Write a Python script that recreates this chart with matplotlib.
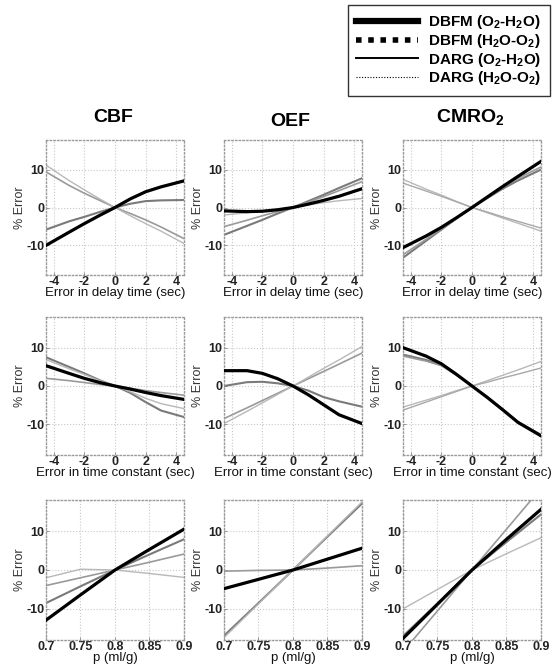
import matplotlib
matplotlib.use("Agg")
import matplotlib.pyplot as plt
from matplotlib.lines import Line2D

plt.rcParams['font.family'] = ['Liberation Sans', 'DejaVu Sans']
plt.rcParams['mathtext.default'] = 'regular'
plt.rcParams['axes.unicode_minus'] = False

# ---------------- data ----------------
x_err = [-4.5, -3, -2, -1, 0, 1, 2, 3, 4.5]
x_p = [0.7, 0.75, 0.8, 0.85, 0.9]

col_titles = ["CBF", "OEF", "CMRO$_2$"]
row_xlabels = ["Error in delay time (sec)", "Error in time constant (sec)", "p (ml/g)"]
err_ticks = [-4, -2, 0, 2, 4]
p_ticks = [0.7, 0.75, 0.8, 0.85, 0.9]
p_ticklabels = ["0.7", "0.75", "0.8", "0.85", "0.9"]
y_ticks = [-10, 0, 10]

legend_labels = ["DBFM (O$_2$-H$_2$O)", "DBFM (H$_2$O-O$_2$)",
                 "DARG (O$_2$-H$_2$O)", "DARG (H$_2$O-O$_2$)"]

# CBF, delay time
cbf_delay_black = [-10.1, -6.6, -4.3, -2.1, 0, 2.3, 4.2, 5.5, 7.1]
cbf_delay_g1 = [-5.9, -3.7, -2.5, -1.2, 0, 1.0, 1.7, 1.9, 2.0]
cbf_delay_g2 = [9.5, 5.9, 3.8, 1.9, 0, -1.6, -3.3, -5.2, -8.3]
cbf_delay_g3 = [11.3, 7.2, 4.7, 2.3, 0, -2.2, -4.3, -6.3, -9.6]

# OEF, delay time
oef_delay_black = [-0.9, -1.1, -1.0, -0.6, 0, 0.9, 1.9, 3.0, 5.0]
oef_delay_g1 = [-7.3, -4.9, -3.3, -1.6, 0, 1.7, 3.4, 5.2, 7.8]
oef_delay_g2 = [-5.1, -3.4, -2.2, -1.1, 0, 1.4, 2.9, 4.5, 6.9]
oef_delay_g3 = [-2.0, -1.4, -0.9, -0.5, 0, 0.7, 1.3, 1.8, 2.4]

# CMRO2, delay time
cmro2_delay_black = [-10.7, -7.6, -5.3, -2.7, 0, 2.8, 5.6, 8.3, 12.3]
cmro2_delay_g1 = [-13.4, -8.9, -5.9, -2.9, 0, 2.5, 5.0, 7.2, 10.1]
cmro2_delay_g2 = [-12.6, -8.5, -5.7, -2.8, 0, 2.7, 5.4, 7.8, 10.8]
cmro2_delay_g3 = [7.5, 4.9, 3.3, 1.6, 0, -1.4, -2.8, -4.2, -6.3]
cmro2_delay_g4 = [6.5, 4.4, 3.0, 1.5, 0, -1.2, -2.5, -3.7, -5.5]

# CBF, time constant
cbf_tc_black = [5.3, 3.3, 2.0, 0.9, 0, -0.8, -1.7, -2.5, -3.5]
cbf_tc_g1 = [7.5, 5.0, 3.3, 1.5, 0, -1.8, -4.2, -6.4, -8.1]
cbf_tc_g2 = [2.0, 1.4, 0.9, 0.4, 0, -0.6, -1.2, -1.7, -2.4]
cbf_tc_g3 = [6.9, 4.5, 3.0, 1.4, 0, -1.5, -3.2, -4.6, -5.9]

# OEF, time constant
oef_tc_black = [4.0, 4.0, 3.3, 1.9, 0, -2.3, -4.9, -7.5, -9.8]
oef_tc_g1 = [0.0, 1.0, 1.1, 0.7, 0, -1.2, -2.9, -4.0, -5.4]
oef_tc_g2 = [-8.5, -5.7, -3.8, -1.9, 0, 1.9, 3.8, 5.7, 8.6]
oef_tc_g3 = [-9.8, -6.6, -4.4, -2.2, 0, 2.3, 4.6, 6.8, 10.3]

# CMRO2, time constant
cmro2_tc_black = [10.0, 7.8, 5.8, 3.0, 0, -3.0, -6.2, -9.5, -13.0]
cmro2_tc_g1 = [8.2, 6.8, 5.5, 2.9, 0, -2.9, -6.1, -9.4, -12.8]
cmro2_tc_g2 = [7.8, 6.5, 5.3, 2.8, 0, -2.8, -6.0, -9.3, -12.7]
cmro2_tc_g3 = [-5.5, -3.7, -2.5, -1.2, 0, 1.4, 2.8, 4.2, 6.4]
cmro2_tc_g4 = [-6.3, -4.2, -2.8, -1.4, 0, 1.0, 2.1, 3.1, 4.7]

# CBF, p
cbf_p_black = [-12.9, -6.4, 0, 5.3, 10.5]
cbf_p_g1 = [-8.5, -4.2, 0, 4.0, 7.9]
cbf_p_g2 = [-4.0, -2.0, 0, 2.0, 4.1]
cbf_p_g3 = [-2.0, 0.2, 0, -0.9, -1.9]

# OEF, p
oef_p_black = [-4.8, -2.4, 0, 2.8, 5.6]
oef_p_g1 = [-16.9, -8.5, 0, 8.6, 17.1]
oef_p_g2 = [-0.3, -0.1, 0, 0.5, 1.1]
oef_p_g3 = [-17.4, -8.7, 0, 8.8, 17.5]

# CMRO2, p
cmro2_p_black = [-17.6, -8.8, 0, 7.9, 15.6]
cmro2_p_g1 = [-17.0, -8.6, 0, 7.2, 14.3]
cmro2_p_g2 = [-21.0, -10.5, 0, 10.5, 21.0]
cmro2_p_g3 = [-10.0, -5.0, 0, 4.2, 8.3]

panels = [
    [(x_err, cbf_delay_black, [cbf_delay_g1, cbf_delay_g2, cbf_delay_g3]),
     (x_err, oef_delay_black, [oef_delay_g1, oef_delay_g2, oef_delay_g3]),
     (x_err, cmro2_delay_black, [cmro2_delay_g1, cmro2_delay_g2, cmro2_delay_g3, cmro2_delay_g4])],
    [(x_err, cbf_tc_black, [cbf_tc_g1, cbf_tc_g2, cbf_tc_g3]),
     (x_err, oef_tc_black, [oef_tc_g1, oef_tc_g2, oef_tc_g3]),
     (x_err, cmro2_tc_black, [cmro2_tc_g1, cmro2_tc_g2, cmro2_tc_g3, cmro2_tc_g4])],
    [(x_p, cbf_p_black, [cbf_p_g1, cbf_p_g2, cbf_p_g3]),
     (x_p, oef_p_black, [oef_p_g1, oef_p_g2, oef_p_g3]),
     (x_p, cmro2_p_black, [cmro2_p_g1, cmro2_p_g2, cmro2_p_g3])],
]

gray_styles = [dict(color='#7a7a7a', lw=1.5),
               dict(color='#9a9a9a', lw=1.2),
               dict(color='#b8b8b8', lw=1.0),
               dict(color='#a8a8a8', lw=1.0)]

# ---------------- figure ----------------
W, H = 555, 666
fig = plt.figure(figsize=(W / 100, H / 100), dpi=100)

def fx(px):
    return px / W

def fy(py):
    return 1 - py / H

col_left = [46, 224, 403]
col_width = 138
row_top = [140, 317, 500]
row_bottom = [275, 455, 640]

for r in range(3):
    for c in range(3):
        x, black, grays = panels[r][c]
        ax = fig.add_axes([fx(col_left[c]), fy(row_bottom[r]),
                           fx(col_width), (row_bottom[r] - row_top[r]) / H])
        for g, st in zip(grays, gray_styles):
            ax.plot(x, g, **st, zorder=2)
        ax.plot(x, black, color='black', lw=2.3, zorder=3)
        ax.set_ylim(-18, 18)
        ax.set_yticks(y_ticks)
        if r < 2:
            ax.set_xlim(-4.5, 4.5)
            ax.set_xticks(err_ticks)
        else:
            ax.set_xlim(0.7, 0.9)
            ax.set_xticks(p_ticks)
            ax.set_xticklabels(p_ticklabels)
        ax.grid(True, color='#c8c8c8', ls=':', lw=0.8)
        for sp in ax.spines.values():
            sp.set_color('#9a9a9a')
            sp.set_linestyle(':')
            sp.set_linewidth(1.0)
        ax.tick_params(direction='in', length=2.5, width=0.6, color='#888888',
                       labelsize=9, pad=1)
        for lbl in ax.get_xticklabels() + ax.get_yticklabels():
            lbl.set_fontweight('bold')
            lbl.set_color('#222222')
        ax.set_xlabel(row_xlabels[r], fontsize=9.5, labelpad=-1, color='#111111')
        ax.set_ylabel("% Error", fontsize=9, labelpad=0, color='#333333')

# column titles
title_pos = [(113, 118), (290, 122), (470, 117)]
for t, (px, py) in zip(col_titles, title_pos):
    fig.text(fx(px), fy(py), t, fontsize=14, fontweight='bold', ha='center', va='center')

# legend
handles = [Line2D([], [], color='black', lw=4.5),
           Line2D([], [], color='black', lw=4.0, ls=(0, (1, 1.2))),
           Line2D([], [], color='black', lw=1.4),
           Line2D([], [], color='black', lw=0.8, ls=(0, (1, 1.5)))]
leg = fig.legend(handles, legend_labels, loc='upper right',
                 bbox_to_anchor=(fx(550), fy(5)), frameon=True, fancybox=False,
                 edgecolor='black', fontsize=11, handlelength=4.0,
                 handletextpad=0.7, labelspacing=0.04, borderpad=0.55,
                 borderaxespad=0)
leg.get_frame().set_linewidth(1.0)
for t in leg.get_texts():
    t.set_fontweight('bold')

fig.savefig("out.png", dpi=100)
